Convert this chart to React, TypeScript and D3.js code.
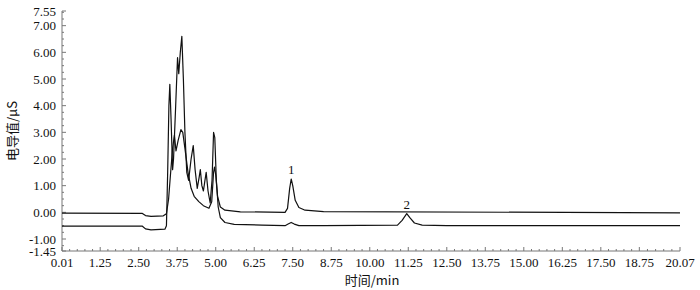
import * as d3 from "d3";

const width = 700;
const height = 290;
const MARGIN = { top: 11, right: 20, bottom: 39, left: 62 };

// x tick labels (min) and y tick labels (uS)
const xTickLabels = ["0.01", "1.25", "2.50", "3.75", "5.00", "6.25", "7.50", "8.75", "10.00", "11.25", "12.50", "13.75", "15.00", "16.25", "17.50", "18.75", "20.07"];
const yTickLabels = ["7.55", "7.00", "6.00", "5.00", "4.00", "3.00", "2.00", "1.00", "0.00", "-1.00", "-1.45"];

// upper trace (baseline ~0), peak 1
const upperTime = [0.01, 2.62, 2.72, 2.9, 3.3, 3.4, 3.47, 3.53, 3.6, 3.66, 3.71, 3.78, 3.87, 3.93, 4.0, 4.1, 4.2, 4.3, 4.45, 4.6, 4.78, 4.87, 4.93, 4.96, 5.0, 5.06, 5.15, 5.3, 5.8, 7.25, 7.33, 7.4, 7.45, 7.5, 7.58, 7.7, 7.9, 8.5, 20.07];
const upperValue = [-0.03, -0.04, -0.12, -0.15, -0.13, -0.05, 0.5, 1.4, 2.4, 2.9, 2.3, 2.7, 3.1, 3.0, 2.4, 1.5, 0.9, 0.6, 0.4, 0.25, 0.15, 0.4, 1.5, 1.7, 1.4, 0.6, 0.2, 0.08, 0.02, 0.0, 0.15, 0.9, 1.25, 1.0, 0.45, 0.18, 0.08, 0.03, -0.02];

// lower trace (baseline ~-0.5), peak 2
const lowerTime = [0.01, 2.62, 2.72, 2.9, 3.35, 3.4, 3.44, 3.48, 3.51, 3.55, 3.6, 3.63, 3.7, 3.76, 3.8, 3.85, 3.9, 3.95, 4.0, 4.06, 4.12, 4.2, 4.27, 4.33, 4.4, 4.46, 4.5, 4.55, 4.6, 4.65, 4.69, 4.75, 4.82, 4.88, 4.93, 4.97, 5.02, 5.08, 5.15, 5.3, 5.6, 6.5, 7.25, 7.35, 7.45, 7.55, 7.7, 8.5, 10.9, 11.05, 11.2, 11.3, 11.45, 11.7, 12.5, 20.07];
const lowerValue = [-0.52, -0.52, -0.62, -0.66, -0.63, -0.5, 1.5, 4.0, 4.8, 3.5, 1.6, 2.0, 4.0, 5.8, 5.2, 6.0, 6.6, 5.0, 3.0, 1.5, 1.2, 2.0, 2.5, 1.6, 0.9, 1.3, 1.6, 1.0, 0.8, 1.2, 1.5, 0.8, 0.35, 1.2, 3.0, 2.8, 1.2, 0.2, -0.2, -0.38, -0.45, -0.48, -0.5, -0.44, -0.38, -0.44, -0.5, -0.5, -0.48, -0.3, -0.05, -0.2, -0.4, -0.48, -0.5, -0.5];

// peak annotations
const peakLabels = ["1", "2"];
const peakTimes = [7.45, 11.2];
const peakValues = [1.25, -0.05];

const fontSerif = "'Liberation Serif', 'Times New Roman', serif";
const fontCJK = "'Noto Sans CJK SC', sans-serif";

function App() {
  const x = d3.scaleLinear().domain([0.01, 20.07]).range([MARGIN.left, width - MARGIN.right]);
  const y = d3.scaleLinear().domain([-1.45, 7.55]).range([height - MARGIN.bottom, MARGIN.top]);

  const line = d3.line<[number, number]>()
    .x(d => x(d[0]))
    .y(d => y(d[1]));

  const upper = upperTime.map((t, i) => [t, upperValue[i]] as [number, number]);
  const lower = lowerTime.map((t, i) => [t, lowerValue[i]] as [number, number]);

  const xVals = xTickLabels.map(Number);
  const yVals = yTickLabels.map(Number);

  // minor ticks: 5 divisions between x labels, every 0.25 on y
  const xMinor: number[] = [];
  for (let i = 0; i < xVals.length - 1; i++) {
    const step = (xVals[i + 1] - xVals[i]) / 5;
    for (let k = 1; k < 5; k++) xMinor.push(xVals[i] + step * k);
  }
  const yMinor = d3.range(-1.25, 7.55, 0.25).filter(v => !yVals.some(m => Math.abs(m - v) < 0.01));

  const axisColor = "#777";
  const x0 = MARGIN.left;
  const yBottom = height - MARGIN.bottom;

  return (
    <div style={{ position: "absolute", left: 0, top: 0 }}>
      <svg width={width} height={height} style={{ display: "block", background: "#fff" }}>
        {/* axes */}
        <line x1={x0} x2={x0} y1={MARGIN.top} y2={yBottom} stroke={axisColor} strokeWidth={1} />
        <line x1={x0} x2={width - MARGIN.right} y1={yBottom} y2={yBottom} stroke={axisColor} strokeWidth={1} />

        {yVals.map((v, i) => (
          <g key={"y" + i}>
            <line x1={x0} x2={x0 + 4} y1={y(v)} y2={y(v)} stroke={axisColor} />
            <text x={x0 - 6} y={y(v)} dy="0.35em" textAnchor="end" fontFamily={fontSerif} fontSize={13} fill="#111">
              {yTickLabels[i]}
            </text>
          </g>
        ))}
        {yMinor.map((v, i) => (
          <line key={"ym" + i} x1={x0} x2={x0 + 2} y1={y(v)} y2={y(v)} stroke={axisColor} />
        ))}

        {xVals.map((v, i) => (
          <g key={"x" + i}>
            <line x1={x(v)} x2={x(v)} y1={yBottom} y2={yBottom - 4} stroke={axisColor} />
            <text x={x(v)} y={yBottom + 16} textAnchor="middle" fontFamily={fontSerif} fontSize={13} fill="#111">
              {xTickLabels[i]}
            </text>
          </g>
        ))}
        {xMinor.map((v, i) => (
          <line key={"xm" + i} x1={x(v)} x2={x(v)} y1={yBottom} y2={yBottom - 2} stroke={axisColor} />
        ))}

        {/* traces */}
        <path d={line(upper) || ""} fill="none" stroke="#111" strokeWidth={1.2} strokeLinejoin="round" />
        <path d={line(lower) || ""} fill="none" stroke="#111" strokeWidth={1.2} strokeLinejoin="round" />

        {peakLabels.map((p, i) => (
          <text key={"p" + i} x={x(peakTimes[i])} y={y(peakValues[i]) - 5} textAnchor="middle" fontFamily={fontSerif} fontSize={13} fill="#111">
            {p}
          </text>
        ))}

        {/* axis titles */}
        <text transform={`translate(17, 131) rotate(-90)`} textAnchor="middle" fontFamily={fontCJK} fontSize={13} fill="#111">
          电导值/μS
        </text>
        <text x={372} y={285} textAnchor="middle" fontFamily={fontCJK} fontSize={13} fill="#111">
          时间/min
        </text>
      </svg>
    </div>
  );
}

export default App;
